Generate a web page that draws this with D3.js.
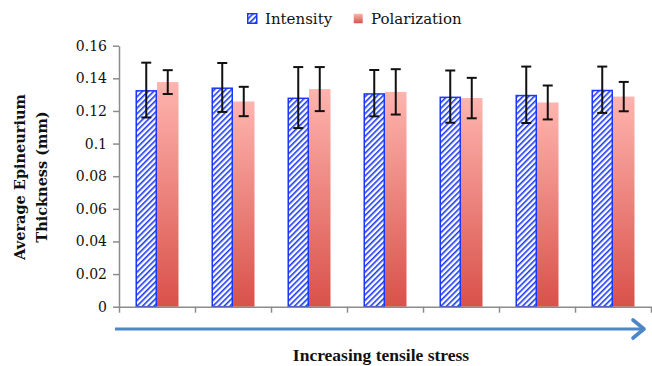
<!DOCTYPE html>
<html>
<head>
<meta charset="utf-8">
<script src="https://cdn.jsdelivr.net/npm/d3@7"></script>
<style>
  body { margin: 0; background: #fff; }
  svg { display: block; }
</style>
</head>
<body>
<div id="chart"></div>
<script>
const categories = ['S1', 'S2', 'S3', 'S4', 'S5', 'S6', 'S7']
const seriesNames = ['Intensity', 'Polarization']
const intensity = [0.1328, 0.1344, 0.1282, 0.1309, 0.1288, 0.1299, 0.1330]
const intensityErr = [0.0168, 0.0150, 0.0187, 0.0142, 0.0160, 0.0173, 0.0142]
const polarization = [0.1377, 0.1258, 0.1334, 0.1317, 0.1279, 0.1252, 0.1288]
const polarizationErr = [0.0073, 0.0090, 0.0135, 0.0139, 0.0124, 0.0104, 0.0090]
const yTicks = [0, 0.02, 0.04, 0.06, 0.08, 0.1, 0.12, 0.14, 0.16]

const width = 652
const height = 366
const margin = { top: 45.7, right: 1, bottom: 59.3, left: 119 }
const innerW = width - margin.left - margin.right
const innerH = height - margin.top - margin.bottom

const svg = d3.select('#chart')
  .append('svg')
  .attr('width', width)
  .attr('height', height)

const defs = svg.append('defs')

const hatch = defs.append('pattern')
  .attr('id', 'hatch')
  .attr('patternUnits', 'userSpaceOnUse')
  .attr('width', 4)
  .attr('height', 4)
  .attr('patternTransform', 'rotate(45)')
hatch.append('rect').attr('width', 4).attr('height', 4).attr('fill', '#fff')
hatch.append('rect').attr('width', 1.6).attr('height', 4).attr('fill', '#1a38f7')

const grad = defs.append('linearGradient')
  .attr('id', 'redgrad')
  .attr('x1', 0).attr('y1', 0).attr('x2', 0).attr('y2', 1)
grad.append('stop').attr('offset', '0%').attr('stop-color', '#ffb4af')
grad.append('stop').attr('offset', '100%').attr('stop-color', '#d9514a')

const g = svg.append('g')
  .attr('transform', `translate(${margin.left}, ${margin.top})`)

const x0 = d3.scaleBand()
  .domain(categories)
  .range([0, innerW])
  .padding(0)

const x1 = d3.scaleBand()
  .domain(seriesNames)
  .range([0, x0.bandwidth()])
  .paddingInner(0)
  .paddingOuter(0.767)

const xTickScale = d3.scaleLinear()
  .domain([0, categories.length])
  .range([0, innerW])

const y = d3.scaleLinear()
  .domain([0, 0.16])
  .range([innerH, 0])

// y axis
const yAxis = g.append('g')
  .call(d3.axisLeft(y)
    .tickValues(yTicks)
    .tickSize(6)
    .tickSizeOuter(0)
    .tickPadding(6)
    .tickFormat(d => d === 0 ? '0' : String(+d.toFixed(2))))
yAxis.selectAll('path, line').attr('stroke', '#8c8c8c').attr('stroke-width', 1.5)
yAxis.selectAll('text')
  .attr('fill', '#111')
  .style('font-family', '"DejaVu Serif", serif')
  .style('font-size', '14px')

// bars
const rows = categories.map((c, i) => ({
  cat: c,
  vals: [
    { s: 'Intensity', v: intensity[i], e: intensityErr[i] },
    { s: 'Polarization', v: polarization[i], e: polarizationErr[i] }
  ]
}))

const groups = g.selectAll('.grp')
  .data(rows)
  .enter()
  .append('g')
  .attr('class', 'grp')
  .attr('transform', d => `translate(${x0(d.cat)}, 0)`)

groups.selectAll('rect')
  .data(d => d.vals)
  .enter()
  .append('rect')
  .attr('x', d => x1(d.s) + (d.s === 'Intensity' ? 0.75 : 0))
  .attr('y', d => y(d.v) + (d.s === 'Intensity' ? 0.75 : 0))
  .attr('width', d => x1.bandwidth() - (d.s === 'Intensity' ? 1.5 : 0))
  .attr('height', d => innerH - y(d.v) - (d.s === 'Intensity' ? 0.75 : 0))
  .attr('fill', d => d.s === 'Intensity' ? 'url(#hatch)' : 'url(#redgrad)')
  .attr('stroke', d => d.s === 'Intensity' ? '#1a38f7' : 'none')
  .attr('stroke-width', 1.5)

// error bars
const err = groups.selectAll('.err')
  .data(d => d.vals)
  .enter()
  .append('g')
  .attr('class', 'err')
  .attr('stroke', '#111')
  .attr('stroke-width', 2)

const cx = d => x1(d.s) + x1.bandwidth() / 2
err.append('line')
  .attr('x1', cx).attr('x2', cx)
  .attr('y1', d => y(d.v + d.e)).attr('y2', d => y(d.v - d.e))
err.append('line')
  .attr('x1', d => cx(d) - 5).attr('x2', d => cx(d) + 5)
  .attr('y1', d => y(d.v + d.e)).attr('y2', d => y(d.v + d.e))
err.append('line')
  .attr('x1', d => cx(d) - 5).attr('x2', d => cx(d) + 5)
  .attr('y1', d => y(d.v - d.e)).attr('y2', d => y(d.v - d.e))

// x axis
const xAxis = g.append('g')
  .attr('transform', `translate(0, ${innerH})`)
  .call(d3.axisBottom(xTickScale)
    .ticks(categories.length)
    .tickSize(6)
    .tickSizeOuter(0)
    .tickFormat(''))
xAxis.selectAll('path, line').attr('stroke', '#8c8c8c').attr('stroke-width', 1.5)

// arrow
const arrowY = 329
svg.append('line')
  .attr('x1', 115).attr('x2', 643)
  .attr('y1', arrowY).attr('y2', arrowY)
  .attr('stroke', '#4f86c6')
  .attr('stroke-width', 3.2)
svg.append('path')
  .attr('d', `M${633},${arrowY - 9} L${644},${arrowY} L${633},${arrowY + 9}`)
  .attr('fill', 'none')
  .attr('stroke', '#4f86c6')
  .attr('stroke-width', 3.6)
  .attr('stroke-linecap', 'round')
  .attr('stroke-linejoin', 'round')

// axis titles
svg.append('text')
  .attr('x', 381)
  .attr('y', 361)
  .attr('text-anchor', 'middle')
  .style('font-family', '"Liberation Serif", serif')
  .style('font-weight', 'bold')
  .style('font-size', '17.5px')
  .attr('fill', '#111')
  .text('Increasing tensile stress')

const yTitle = svg.append('text')
  .attr('transform', 'translate(0, 177) rotate(-90)')
  .attr('text-anchor', 'middle')
  .style('font-family', '"DejaVu Serif", serif')
  .style('font-weight', 'bold')
  .style('font-size', '14.5px')
  .attr('fill', '#111')
yTitle.append('tspan').attr('x', 0).attr('y', 25).text('Average Epineurium')
yTitle.append('tspan').attr('x', 0).attr('y', 47).text('Thickness (mm)')

// legend
const legend = svg.append('g')
const legendItems = [
  { name: seriesNames[0], x: 247, fill: 'url(#hatch)', stroke: '#1a38f7' },
  { name: seriesNames[1], x: 353, fill: 'url(#redgrad)', stroke: 'none' }
]
const li = legend.selectAll('g')
  .data(legendItems)
  .enter()
  .append('g')
  .attr('transform', d => `translate(${d.x}, 13)`)
li.append('rect')
  .attr('x', 0.75).attr('y', 0.75)
  .attr('width', 9).attr('height', 9.5)
  .attr('fill', d => d.fill)
  .attr('stroke', d => d.stroke)
  .attr('stroke-width', 1.5)
li.append('text')
  .attr('x', 18)
  .attr('y', 10.5)
  .style('font-family', '"DejaVu Serif", serif')
  .style('font-size', '15px')
  .attr('fill', '#111')
  .text(d => d.name)
</script>
</body>
</html>
